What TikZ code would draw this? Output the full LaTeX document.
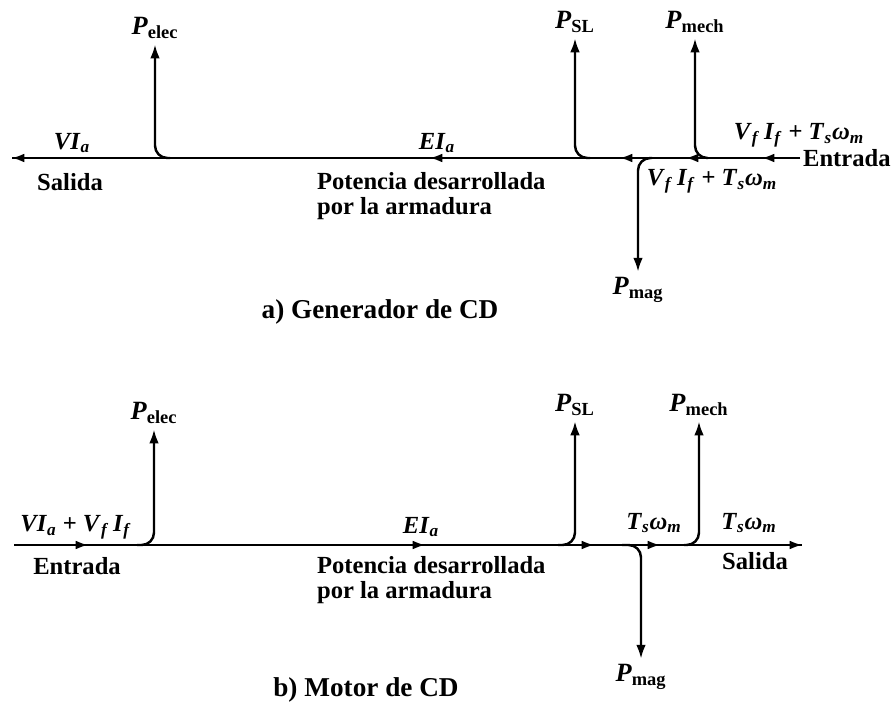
\documentclass[tikz,border=0pt]{standalone}
\usepackage{fontspec}
\setmainfont{Liberation Serif}
\usetikzlibrary{arrows.meta}
\tikzset{
  flow/.style={line width=1.1pt,-{Latex[length=7pt,width=5pt]}},
  mainline/.style={line width=1.1pt},
  branch/.style={line width=1.4pt,rounded corners=7pt,-{Latex[length=8pt,width=5.5pt]}},
  lbl/.style={font=\fontsize{14}{14.5}\selectfont\bfseries,inner sep=1pt,align=left},
  ploss/.style={font=\fontsize{15}{16}\selectfont\bfseries,inner sep=3pt},
  caption/.style={font=\fontsize{15.5}{17}\selectfont\bfseries,inner sep=1pt},
}
\newcommand{\pwr}[1]{\textit{P}\textsubscript{#1}}
\newcommand{\tsw}{\textit{T}\textsubscript{\textit{s}}\textit{ω}\textsubscript{\textit{m}}}
\newcommand{\vfif}{\textit{V}\textsubscript{\textit{f}}\,\textit{I}\textsubscript{\textit{f}}}

\begin{document}
\begin{tikzpicture}[x=0.02cm,y=-0.02cm]
\useasboundingbox (0,0) rectangle (896,705);

% a) generador: la potencia va de derecha a izquierda
\coordinate (inA) at (800,158);
\coordinate (a1) at (762,158);
\coordinate (a2) at (686,158);
\coordinate (a3) at (620,158);
\coordinate (a4) at (430,158);
\coordinate (outA) at (12,158);
\coordinate (jElecA) at (170,158);
\coordinate (jSLA) at (590,158);
\coordinate (jMagA) at (652,158);
\coordinate (jMechA) at (708,158);

\node[ploss] (pElecA) at (155,28) {\pwr{elec}};
\node[ploss] (pSLA) at (575,22) {\pwr{SL}};
\node[ploss] (pMechA) at (695,22) {\pwr{mech}};
\node[ploss] (pMagA) at (638,290) {\pwr{mag}};

\node[lbl] (viA) at (72,143) {\textit{VI}\textsubscript{\textit{a}}};
\node[lbl] (salA) at (70,182) {Salida};
\node[lbl] (eiA) at (437,143) {\textit{EI}\textsubscript{\textit{a}}};
\node[lbl,anchor=north west] (potA) at (315,170) {Potencia desarrollada\\por la armadura};
\node[lbl] (inTxtA) at (799,135) {\vfif\ + \tsw};
\node[lbl,anchor=west] (entA) at (801,158) {Entrada};
\node[lbl] (devA) at (712,181) {\vfif\ + \tsw};
\node[caption] (capA) at (380,312) {a) Generador de CD};

% b) motor: la potencia va de izquierda a derecha
\coordinate (inB) at (14,545);
\coordinate (b1) at (88,545);
\coordinate (b2) at (425,545);
\coordinate (b3) at (594,545);
\coordinate (b4) at (660,545);
\coordinate (outB) at (802,545);
\coordinate (jElecB) at (137,545);
\coordinate (jSLB) at (558,545);
\coordinate (jMagB) at (622,545);
\coordinate (jMechB) at (684,545);

\node[ploss] (pElecB) at (154,413) {\pwr{elec}};
\node[ploss] (pSLB) at (575,405) {\pwr{SL}};
\node[ploss] (pMechB) at (699,405) {\pwr{mech}};
\node[ploss] (pMagB) at (641,677) {\pwr{mag}};

\node[lbl] (viB) at (76,527) {\textit{VI}\textsubscript{\textit{a}} + \vfif};
\node[lbl] (entB) at (77,566) {Entrada};
\node[lbl] (eiB) at (421,527) {\textit{EI}\textsubscript{\textit{a}}};
\node[lbl,anchor=north west] (potB) at (315,554) {Potencia desarrollada\\por la armadura};
\node[lbl] (twB) at (654,523) {\tsw};
\node[lbl] (twOutB) at (749,523) {\tsw};
\node[lbl] (salB) at (755,561) {Salida};
\node[caption] (capB) at (366,690) {b) Motor de CD};

% lineas principales
\draw[mainline] (inA) -- (outA);
\draw[mainline] (inB) -- (outB);
\foreach \s/\e in {inA/a1,a1/a2,a2/a3,a3/a4,a4/outA,inB/b1,b1/b2,b2/b3,b3/b4,b4/outB}
  \draw[flow] (\s) -- (\e);

% perdidas
\foreach \j/\p in {jElecA/pElecA,jSLA/pSLA,jMagA/pMagA,jMechA/pMechA,jElecB/pElecB,jSLB/pSLB,jMagB/pMagB,jMechB/pMechB}
  \draw[branch] (\j) -| (\p);
\end{tikzpicture}
\end{document}
